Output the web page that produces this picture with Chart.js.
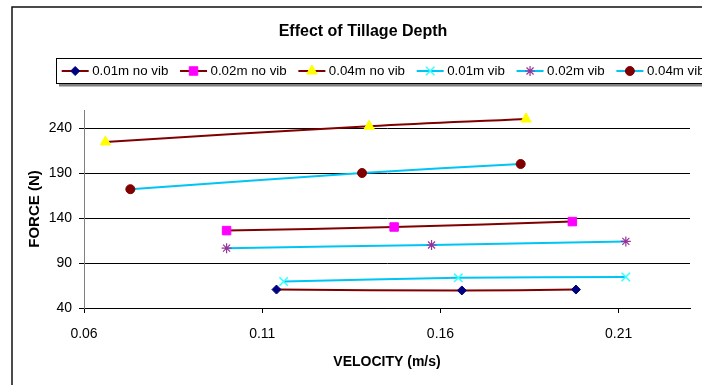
<!DOCTYPE html>
<html>
<head>
<meta charset="utf-8">
<title>Effect of Tillage Depth</title>
<script src="https://cdn.jsdelivr.net/npm/chart.js@4.4.1/dist/chart.umd.min.js"></script>
<style>
  html,body{margin:0;padding:0;background:#fff}
  #wrap{width:702px;height:385px}
</style>
</head>
<body>
<div id="wrap"><canvas id="chart" width="702" height="385"></canvas></div>
<script>
/* ─ data ─ */
const seriesNames=['0.01m no vib','0.02m no vib','0.04m no vib','0.01m vib','0.02m vib','0.04m vib'];

const vel001NoVib=[0.114,0.166,0.198];
const force001NoVib=[60.5,59.5,60.5];
const vel002NoVib=[0.100,0.147,0.197];
const force002NoVib=[126,130,136];
const vel004NoVib=[0.066,0.140,0.184];
const force004NoVib=[224.5,242,250];
const vel001Vib=[0.116,0.165,0.212];
const force001Vib=[69.5,73.5,74.5];
const vel002Vib=[0.100,0.1575,0.212];
const force002Vib=[106.5,110,114];
const vel004Vib=[0.073,0.138,0.1825];
const force004Vib=[172,190,200];

const velocityTicks=[0.06,0.11,0.16,0.21];
const forceTicks=[40,90,140,190,240];

/* ─ styles ─ */
const FONT="'Liberation Sans', Arial, sans-serif";
const DARK_RED='#800000', SKY='#00c4f4';
const looks=[
  {line:DARK_RED,mark:'#000080',shape:'rectRot',r:4.5,bw:1},
  {line:DARK_RED,mark:'#ff00ff',shape:'rect',r:6,bw:1},
  {line:DARK_RED,mark:'#ffff00',shape:'triangle',r:6,bw:1},
  {line:SKY,mark:'#33ffff',shape:'crossRot',r:6,bw:1.5},
  {line:SKY,mark:'#993399',shape:'star',r:5,bw:1.2},
  {line:SKY,mark:'#800000',shape:'circle',r:4.5,bw:1},
];
const pairs=[
  [vel001NoVib,force001NoVib],[vel002NoVib,force002NoVib],[vel004NoVib,force004NoVib],
  [vel001Vib,force001Vib],[vel002Vib,force002Vib],[vel004Vib,force004Vib],
];

const datasets=pairs.map(([vx,fy],i)=>({
  label:seriesNames[i],
  data:vx.map((v,k)=>({x:v,y:fy[k]})),
  showLine:true,
  tension:0.4,
  borderColor:looks[i].line,
  borderWidth:2,
  pointStyle:looks[i].shape,
  pointRadius:looks[i].r,
  pointBackgroundColor:looks[i].mark,
  pointBorderColor:looks[i].mark,
  pointBorderWidth:looks[i].bw,
}));

/* ─ frame, title, legend ─ */
const decor={
  id:'decor',
  afterDraw(chart){
    const {ctx}=chart;
    ctx.save();
    // outer frame
    ctx.strokeStyle='#111';ctx.lineWidth=1.5;
    ctx.strokeRect(12,7,800,500);
    // title
    ctx.fillStyle='#000';
    ctx.font='bold 16px '+FONT;
    ctx.textAlign='center';ctx.textBaseline='alphabetic';
    ctx.fillText('Effect of Tillage Depth',363,36);
    // legend box with shadow
    ctx.fillStyle='#808080';
    ctx.fillRect(59,84,700,2.5);
    ctx.strokeStyle='#000';ctx.lineWidth=1;
    ctx.strokeRect(56.5,58.5,700,25);
    ctx.font='13.3px '+FONT;
    ctx.textAlign='left';ctx.textBaseline='middle';
    let x=61.7;const y=71;
    chart.data.datasets.forEach(ds=>{
      ctx.strokeStyle=ds.borderColor;ctx.lineWidth=2;
      ctx.beginPath();ctx.moveTo(x,y);ctx.lineTo(x+27,y);ctx.stroke();
      ctx.fillStyle=ds.pointBackgroundColor;
      ctx.strokeStyle=ds.pointBorderColor;
      ctx.lineWidth=ds.pointBorderWidth;
      Chart.helpers.drawPoint(ctx,{pointStyle:ds.pointStyle,radius:ds.pointRadius,rotation:0,borderWidth:ds.pointBorderWidth},x+13.5,y);
      ctx.fillStyle='#000';
      ctx.fillText(ds.label,x+30.5,y);
      x+=30.5+ctx.measureText(ds.label).width+11.7;
    });
    ctx.restore();
  }
};

Chart.defaults.font.family=FONT;
Chart.defaults.color='#000';

new Chart(document.getElementById('chart'),{
  type:'scatter',
  data:{datasets},
  options:{
    responsive:false,
    animation:false,
    layout:{padding:{top:110,right:12,left:0,bottom:0}},
    plugins:{legend:{display:false},title:{display:false},tooltip:{enabled:false}},
    scales:{
      x:{
        type:'linear',min:0.06,max:0.23,
        afterBuildTicks:s=>{s.ticks=velocityTicks.map(v=>({value:v}));},
        afterFit:s=>{s.height=77;},
        ticks:{padding:13,font:{size:14},callback:v=>v.toFixed(2),maxRotation:0,autoSkip:false},
        grid:{drawOnChartArea:false,color:'#000',tickLength:5},
        border:{color:'#000'},
        title:{display:true,text:'VELOCITY (m/s)',font:{size:14,weight:'bold'},padding:{top:0,bottom:14.5}}
      },
      y:{
        type:'linear',min:40,max:260,
        afterBuildTicks:s=>{s.ticks=forceTicks.map(v=>({value:v}));},
        afterFit:s=>{s.width=84;},
        ticks:{padding:7,font:{size:14},callback:v=>String(v)},
        grid:{color:'#000',lineWidth:1,tickLength:5},
        border:{color:'#808080'},
        title:{display:true,text:'FORCE (N)',font:{size:15,weight:'bold'},padding:{top:26,bottom:0}}
      }
    }
  },
  plugins:[decor]
});
</script>
</body>
</html>
